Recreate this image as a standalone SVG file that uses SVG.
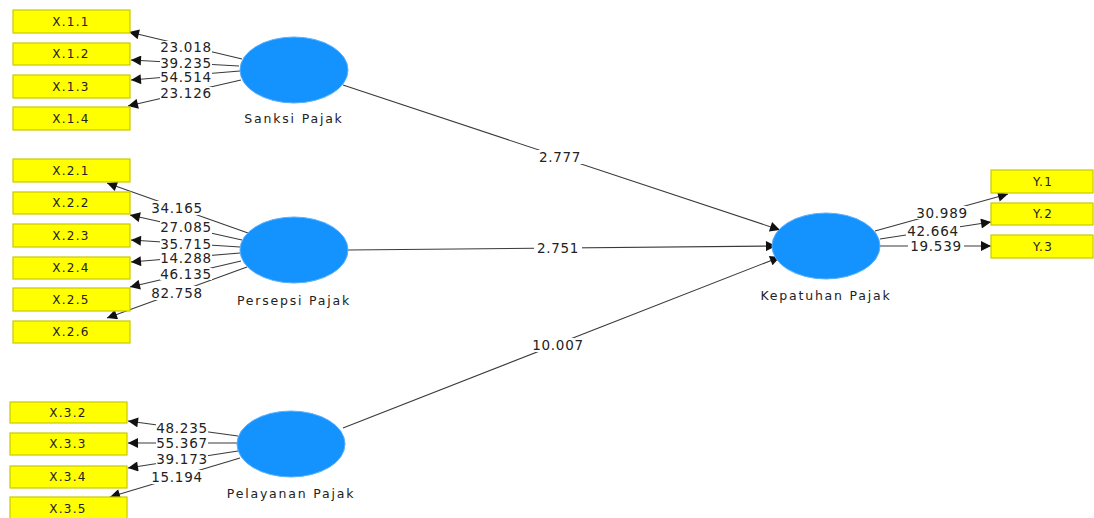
<svg xmlns="http://www.w3.org/2000/svg" width="1094" height="518" viewBox="0 0 1094 518">
<style>
.box{fill:#FFFF00;stroke:#C9C900;stroke-width:1.2}
.bt{font-family:"DejaVu Sans",sans-serif;font-size:12px;letter-spacing:1.3px;fill:#222;text-anchor:middle;dominant-baseline:central}
.lv{fill:#1493FF;stroke:#5AB0FF;stroke-width:1}
.nt{font-family:"DejaVu Sans",sans-serif;font-size:12.5px;letter-spacing:1.8px;fill:#222;text-anchor:middle}
.ln{stroke:#3a3a3a;stroke-width:1.1;fill:none;marker-end:url(#ah)}
.bg{fill:#fff}
.lbl{font-family:"DejaVu Sans",sans-serif;font-size:13.5px;letter-spacing:0.7px;fill:#222;text-anchor:middle;dominant-baseline:central}
</style>
<defs>
<marker id="ah" viewBox="0 0 10 10" refX="10" refY="5" markerWidth="12" markerHeight="10" markerUnits="userSpaceOnUse" orient="auto">
<path d="M0,0 L10,5 L0,10 z" fill="#111"/>
</marker>
</defs>
<rect width="1094" height="518" fill="#fff"/>

<g id="connectors">
<line class="ln" x1="242" y1="59" x2="129" y2="32"/>
<line class="ln" x1="239" y1="66" x2="131" y2="60"/>
<line class="ln" x1="240" y1="71" x2="131" y2="80"/>
<line class="ln" x1="241" y1="80" x2="128" y2="106"/>

<line class="ln" x1="248" y1="233" x2="107" y2="183"/>
<line class="ln" x1="242" y1="240" x2="130" y2="215"/>
<line class="ln" x1="240" y1="247" x2="131" y2="240"/>
<line class="ln" x1="240" y1="253" x2="131" y2="262"/>
<line class="ln" x1="241" y1="261" x2="130" y2="287"/>
<line class="ln" x1="247" y1="267" x2="107" y2="318"/>

<line class="ln" x1="238" y1="436" x2="128" y2="421"/>
<line class="ln" x1="238" y1="443" x2="128" y2="443"/>
<line class="ln" x1="238" y1="451" x2="128" y2="468"/>
<line class="ln" x1="240" y1="458" x2="110" y2="497"/>

<line class="ln" x1="343" y1="85" x2="780" y2="230"/>
<line class="ln" x1="348" y1="250" x2="776" y2="246"/>
<line class="ln" x1="343" y1="428" x2="780" y2="257"/>

<line class="ln" x1="875" y1="231" x2="1008" y2="194"/>
<line class="ln" x1="880" y1="239" x2="991" y2="222"/>
<line class="ln" x1="880" y1="246" x2="991" y2="246"/>

<rect class="bg" x="160" y="41" width="52" height="13"/><text class="lbl" x="186" y="47">23.018</text>
<rect class="bg" x="160" y="57" width="52" height="12"/><text class="lbl" x="186" y="63">39.235</text>
<rect class="bg" x="160" y="71" width="52" height="12"/><text class="lbl" x="186" y="77">54.514</text>
<rect class="bg" x="160" y="87" width="52" height="13"/><text class="lbl" x="186" y="93">23.126</text>

<rect class="bg" x="151" y="201" width="52" height="14"/><text class="lbl" x="177" y="208">34.165</text>
<rect class="bg" x="160" y="221" width="52" height="13"/><text class="lbl" x="186" y="227">27.085</text>
<rect class="bg" x="160" y="238" width="52" height="12"/><text class="lbl" x="186" y="244">35.715</text>
<rect class="bg" x="160" y="252" width="52" height="12"/><text class="lbl" x="186" y="258">14.288</text>
<rect class="bg" x="160" y="268" width="52" height="12"/><text class="lbl" x="186" y="274">46.135</text>
<rect class="bg" x="151" y="286" width="52" height="14"/><text class="lbl" x="177" y="293">82.758</text>

<rect class="bg" x="156" y="422" width="52" height="12"/><text class="lbl" x="182" y="428">48.235</text>
<rect class="bg" x="156" y="437" width="52" height="12"/><text class="lbl" x="182" y="443">55.367</text>
<rect class="bg" x="156" y="453" width="52" height="12"/><text class="lbl" x="182" y="459">39.173</text>
<rect class="bg" x="151" y="470" width="52" height="14"/><text class="lbl" x="177" y="477">15.194</text>

<rect class="bg" x="536" y="150" width="48" height="14"/><text class="lbl" x="560" y="157">2.777</text>
<rect class="bg" x="534" y="241" width="48" height="14"/><text class="lbl" x="558" y="248">2.751</text>
<rect class="bg" x="530" y="338" width="56" height="14"/><text class="lbl" x="558" y="345">10.007</text>

<rect class="bg" x="914" y="206" width="56" height="13"/><text class="lbl" x="942" y="213">30.989</text>
<rect class="bg" x="906" y="225" width="54" height="12"/><text class="lbl" x="933" y="231">42.664</text>
<rect class="bg" x="908" y="240" width="56" height="12"/><text class="lbl" x="936" y="246">19.539</text>
</g>

<g id="sanksi">
<ellipse class="lv" cx="294" cy="70" rx="54" ry="33"/>
<text class="nt" x="294" y="123">Sanksi Pajak</text>
</g>
<g id="persepsi">
<ellipse class="lv" cx="294" cy="250" rx="54" ry="33"/>
<text class="nt" x="294" y="305">Persepsi Pajak</text>
</g>
<g id="pelayanan">
<ellipse class="lv" cx="291" cy="444" rx="54" ry="33"/>
<text class="nt" x="291" y="498">Pelayanan Pajak</text>
</g>
<g id="kepatuhan">
<ellipse class="lv" cx="826" cy="246" rx="54" ry="33"/>
<text class="nt" x="826" y="300">Kepatuhan Pajak</text>
</g>

<g id="x11"><rect class="box" x="13" y="10" width="117" height="23"/><text class="bt" x="71" y="22">X.1.1</text></g>
<g id="x12"><rect class="box" x="13" y="43" width="117" height="22"/><text class="bt" x="71" y="54">X.1.2</text></g>
<g id="x13"><rect class="box" x="13" y="75" width="117" height="23"/><text class="bt" x="71" y="87">X.1.3</text></g>
<g id="x14"><rect class="box" x="13" y="107" width="117" height="23"/><text class="bt" x="71" y="119">X.1.4</text></g>

<g id="x21"><rect class="box" x="13" y="159" width="117" height="23"/><text class="bt" x="71" y="171">X.2.1</text></g>
<g id="x22"><rect class="box" x="13" y="192" width="117" height="22"/><text class="bt" x="71" y="203">X.2.2</text></g>
<g id="x23"><rect class="box" x="13" y="224" width="117" height="23"/><text class="bt" x="71" y="236">X.2.3</text></g>
<g id="x24"><rect class="box" x="13" y="257" width="117" height="22"/><text class="bt" x="71" y="268">X.2.4</text></g>
<g id="x25"><rect class="box" x="13" y="288" width="117" height="23"/><text class="bt" x="71" y="300">X.2.5</text></g>
<g id="x26"><rect class="box" x="13" y="321" width="117" height="22"/><text class="bt" x="71" y="332">X.2.6</text></g>

<g id="x32"><rect class="box" x="10" y="402" width="117" height="21"/><text class="bt" x="68" y="413">X.3.2</text></g>
<g id="x33"><rect class="box" x="10" y="433" width="117" height="22"/><text class="bt" x="68" y="444">X.3.3</text></g>
<g id="x34"><rect class="box" x="10" y="466" width="117" height="22"/><text class="bt" x="68" y="477">X.3.4</text></g>
<g id="x35"><rect class="box" x="10" y="497" width="117" height="23"/><text class="bt" x="68" y="509">X.3.5</text></g>

<g id="y1"><rect class="box" x="991" y="170" width="102" height="23"/><text class="bt" x="1043" y="182">Y.1</text></g>
<g id="y2"><rect class="box" x="991" y="203" width="102" height="22"/><text class="bt" x="1043" y="214">Y.2</text></g>
<g id="y3"><rect class="box" x="991" y="235" width="102" height="23"/><text class="bt" x="1043" y="247">Y.3</text></g>
</svg>
